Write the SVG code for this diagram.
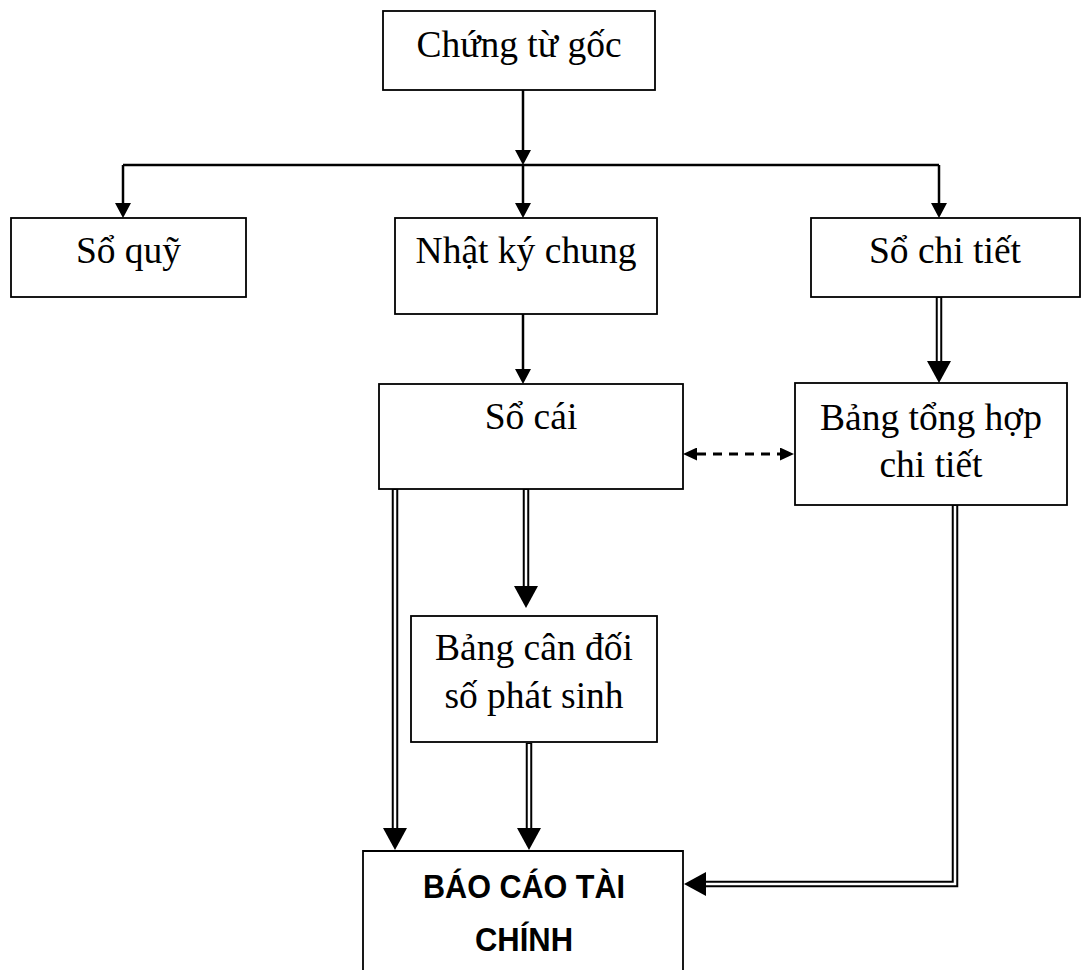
<svg xmlns="http://www.w3.org/2000/svg" width="1083" height="970" viewBox="0 0 1083 970">
<style>
.box{fill:#fff;stroke:#000;stroke-width:1.8}
.t{font-family:"Liberation Serif","Times New Roman",serif;font-size:37.5px;fill:#000;text-anchor:middle}
.tb{font-family:"Liberation Sans",Arial,sans-serif;font-size:33px;font-weight:bold;fill:#000;text-anchor:middle}
.s{fill:none;stroke:#000;stroke-width:2.5}
.d{fill:none;stroke:#000;stroke-width:3;stroke-dasharray:9 7}
.dbl{fill:none;stroke:#000;stroke-width:6.5;stroke-linejoin:miter}
.dblw{fill:none;stroke:#fff;stroke-width:2.5;stroke-linejoin:miter}
</style>
<defs>
<marker id="a" markerUnits="userSpaceOnUse" markerWidth="15" markerHeight="16" refX="0" refY="8" orient="auto"><path d="M0,0 L15,8 L0,16 Z" fill="#000"/></marker>
<marker id="ad" markerUnits="userSpaceOnUse" markerWidth="14" markerHeight="13" refX="0" refY="6.5" orient="auto-start-reverse"><path d="M0,0 L14,6.5 L0,13 Z" fill="#000"/></marker>
<marker id="a2" markerUnits="userSpaceOnUse" markerWidth="22" markerHeight="24" refX="0" refY="12" orient="auto"><path d="M0,0 L22,12 L0,24 Z" fill="#000"/></marker>
</defs>
<g id="connectors">
<path class="s" d="M523,90 V150" marker-end="url(#a)"/>
<path class="s" d="M123,165 H939"/>
<path class="s" d="M123,165 V203" marker-end="url(#a)"/>
<path class="s" d="M523,165 V203" marker-end="url(#a)"/>
<path class="s" d="M939,165 V203" marker-end="url(#a)"/>
<path class="s" d="M523,314 V369" marker-end="url(#a)"/>
<path class="d" d="M697,454 H780" marker-start="url(#ad)" marker-end="url(#ad)"/>
<path class="dbl" d="M939,297 V361" marker-end="url(#a2)"/>
<path class="dblw" d="M939,298 V361"/>
<path class="dbl" d="M395,489 V828" marker-end="url(#a2)"/>
<path class="dblw" d="M395,490 V828"/>
<path class="dbl" d="M526,489 V586" marker-end="url(#a2)"/>
<path class="dblw" d="M526,490 V586"/>
<path class="dbl" d="M529,743 V828" marker-end="url(#a2)"/>
<path class="dblw" d="M529,744 V828"/>
<path class="dbl" d="M955,505 V884 H706" marker-end="url(#a2)"/>
<path class="dblw" d="M955,506 V884 H706"/>
</g>
<g id="chung-tu-goc"><rect class="box" x="383" y="11" width="272" height="79"/><text class="t" x="519" y="57">Chứng từ gốc</text></g>
<g id="so-quy"><rect class="box" x="11" y="218" width="235" height="79"/><text class="t" x="128.5" y="263">Sổ quỹ</text></g>
<g id="nhat-ky-chung"><rect class="box" x="395" y="218" width="262" height="96"/><text class="t" x="526" y="263">Nhật ký chung</text></g>
<g id="so-chi-tiet"><rect class="box" x="811" y="218" width="269" height="79"/><text class="t" x="945" y="263">Sổ chi tiết</text></g>
<g id="so-cai"><rect class="box" x="379" y="384" width="304" height="105"/><text class="t" x="531" y="429">Sổ cái</text></g>
<g id="bang-tong-hop"><rect class="box" x="795" y="383" width="272" height="122"/><text class="t" x="931" y="430">Bảng tổng hợp</text><text class="t" x="931" y="477">chi tiết</text></g>
<g id="bang-can-doi"><rect class="box" x="411" y="616" width="246" height="126"/><text class="t" x="534" y="660">Bảng cân đối</text><text class="t" x="534" y="708">số phát sinh</text></g>
<g id="bao-cao"><path class="box" d="M363,980 V851 H683 V980"/><text class="tb" x="524" y="898" textLength="202" lengthAdjust="spacingAndGlyphs">BÁO CÁO TÀI</text><text class="tb" x="524" y="951" textLength="98" lengthAdjust="spacingAndGlyphs">CHÍNH</text></g>
</svg>
